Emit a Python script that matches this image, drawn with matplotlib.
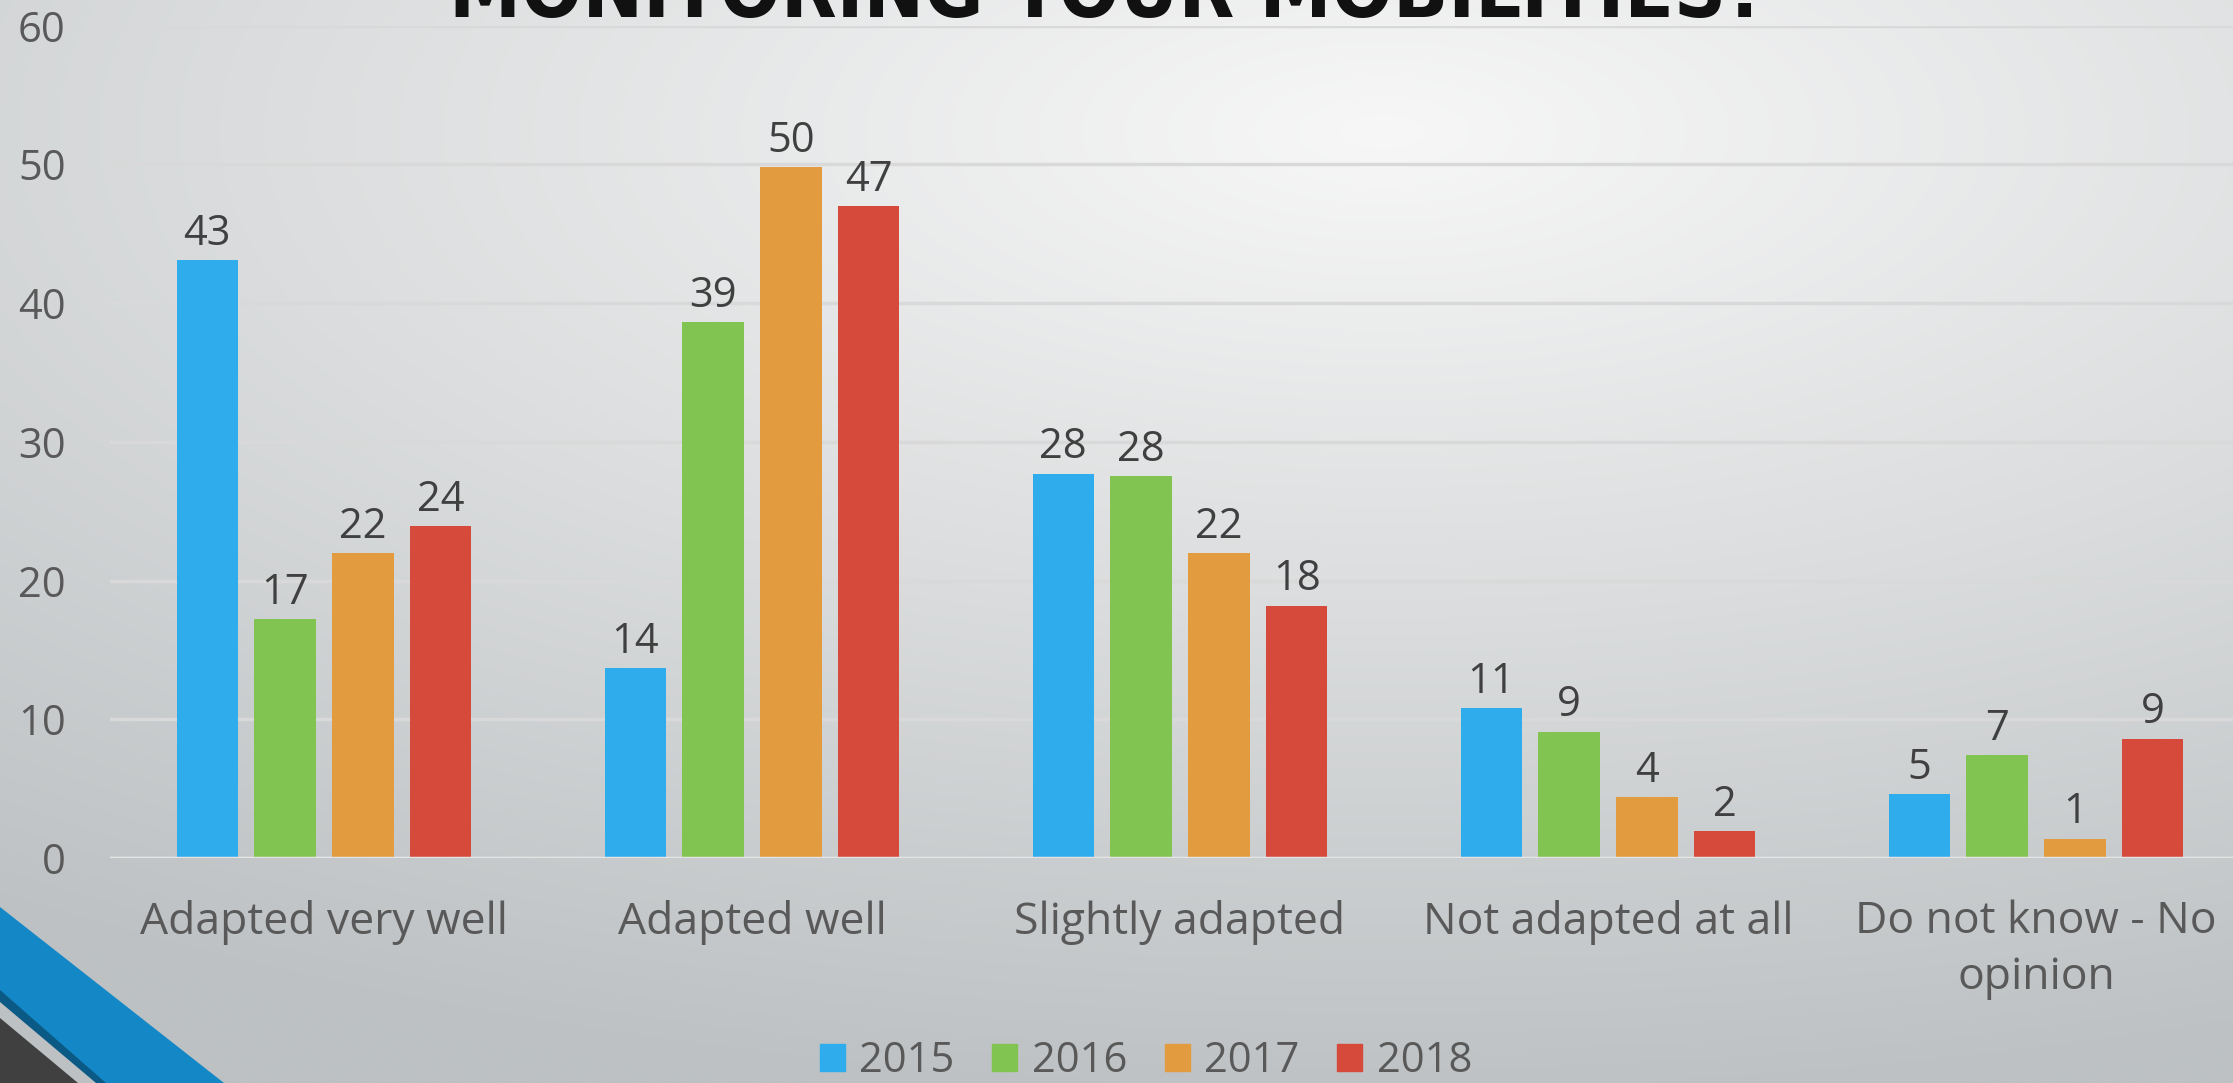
import numpy as np
import matplotlib
matplotlib.use("Agg")
import matplotlib.pyplot as plt
from matplotlib.patches import Polygon, Patch

# ---------------------------------------------------------------------------
# data (labels are the rounded values shown)
# ---------------------------------------------------------------------------
categories = ["Adapted very well", "Adapted well", "Slightly adapted",
              "Not adapted at all", "Do not know - No\nopinion"]
years = ["2015", "2016", "2017", "2018"]
v2015 = [43.1, 13.7, 27.7, 10.8, 4.6]
v2016 = [17.2, 38.6, 27.5, 9.1, 7.4]
v2017 = [22.0, 49.8, 22.0, 4.4, 1.4]
v2018 = [23.9, 47.0, 18.2, 1.95, 8.6]
series = [v2015, v2016, v2017, v2018]
colors = ["#2EACEC", "#82C451", "#E29C3F", "#D64A3B"]
yticks = [0, 10, 20, 30, 40, 50, 60]
title = "MONITORING YOUR MOBILITIES?"

W, H = 2233, 1083
FONT = ["Open Sans", "DejaVu Sans"]
plt.rcParams["font.family"] = FONT

fig = plt.figure(figsize=(W / 100, H / 100), dpi=100)

# --- slide background: soft radial grey gradient ---------------------------
bg = fig.add_axes([0, 0, 1, 1], zorder=-10)
gx, gy = np.meshgrid(np.linspace(0, 1, 400), np.linspace(0, 1, 200))
d = np.sqrt(((gx - 0.62) / 1.1) ** 2 + ((gy - 0.12) / 0.95) ** 2)
d = np.clip(d / 0.95, 0, 1)
top = np.array([0xf7, 0xf7, 0xf7]) / 255
bot = np.array([0xbd, 0xc1, 0xc3]) / 255
img = top[None, None, :] * (1 - d[..., None]) + bot[None, None, :] * d[..., None]
bg.imshow(img, extent=[0, W, H, 0], aspect="auto", interpolation="bicubic")
bg.set_xlim(0, W)
bg.set_ylim(H, 0)
bg.axis("off")

# bottom-left corner decoration
bg.add_patch(Polygon([(0, 907), (224, H), (100, H), (0, 997)], closed=True,
                     color="#1488C6", lw=0))
bg.add_patch(Polygon([(0, 990), (106, H), (96, H), (0, 1002)], closed=True,
                     color="#0B5A86", lw=0))
bg.add_patch(Polygon([(0, 1018), (78, H), (0, H)], closed=True,
                     color="#404040", lw=0))

# slide title: only its lower edge shows, as in the reference
fig.text(1108 / W, 1 - 17 / H, title, ha="center", va="baseline",
         fontsize=58, color="#111111", family="DejaVu Sans",
         fontstretch="condensed", fontweight="bold")

# --- chart -----------------------------------------------------------------
ax = fig.add_axes([110 / W, 1 - 858 / H, 2140 / W, (858 - 25.6) / H])
ax.patch.set_alpha(0)

x = np.arange(len(categories))
step, width = 0.182, 0.143
for i, (vals, col, yr) in enumerate(zip(series, colors, years)):
    pos = x + (i - 1.5) * step
    bars = ax.bar(pos, vals, width, color=col, label=yr, zorder=3)
    for b, v in zip(bars, vals):
        ax.annotate(f"{v:.0f}", (b.get_x() + b.get_width() / 2, v),
                    xytext=(0, 11), textcoords="offset points",
                    ha="center", va="baseline", fontsize=30, color="#404040")

ax.set_xlim(-0.5, len(categories) - 0.5)
ax.set_ylim(0, 60)
ax.set_yticks(yticks)
ax.set_xticks(x)
ax.set_xticklabels(categories, fontsize=32, color="#595959", linespacing=1.35)
ax.tick_params(axis="y", length=0, pad=32, labelsize=30, labelcolor="#595959")
ax.tick_params(axis="x", length=0, pad=30)
ax.grid(axis="y", color="#d9d9d9", lw=2.5, zorder=0)
for s in ax.spines.values():
    s.set_visible(False)
ax.axhline(0, color="#e4e4e4", lw=2.5, zorder=4)

handles = [Patch(color=c, label=y) for c, y in zip(colors, years)]
fig.legend(handles=handles, loc="center", ncol=4, frameon=False,
           bbox_to_anchor=(1146 / W, 1 - 1061 / H), fontsize=30,
           labelcolor="#595959", handlelength=0.6, handleheight=0.6,
           handletextpad=0.35, columnspacing=0.9)

fig.savefig("out.png", dpi=100)
